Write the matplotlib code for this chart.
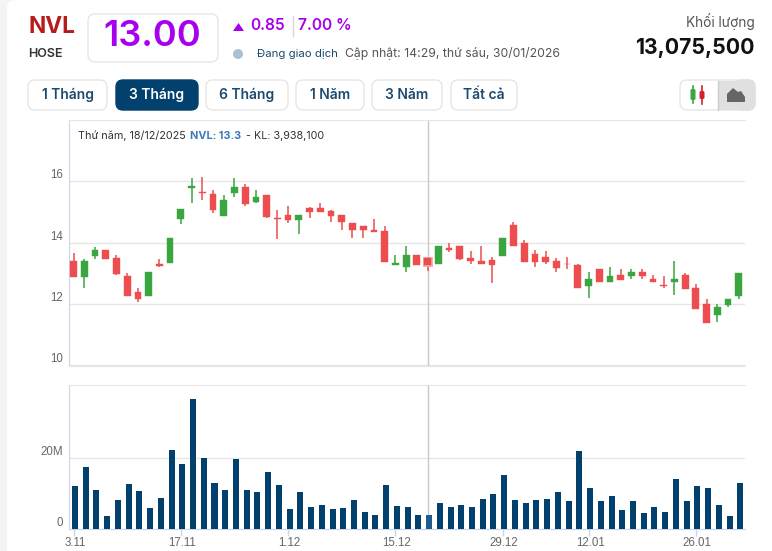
import matplotlib
matplotlib.use('Agg')
import matplotlib.pyplot as plt
from matplotlib.patches import FancyBboxPatch, Rectangle, Circle, Polygon
from matplotlib.transforms import ScaledTranslation

W, H = 772, 551

# du lieu nen
opens = [13.41, 12.89, 13.57, 13.77, 13.51, 12.92, 12.40, 12.27, 13.31, 13.34, 14.78, 15.79, 15.65, 15.59, 14.87, 15.62,
         15.82, 15.33, 15.56, 14.81, 14.89, 14.73, 15.12, 15.12, 15.02, 14.89, 14.63, 14.53, 14.43, 14.37, 13.26, 13.20,
         13.59, 13.49, 13.30, 13.82, 13.91, 13.49, 13.39, 13.43, 13.56, 14.57, 13.98, 13.62, 13.52, 13.39, 13.32, 13.29,
         12.60, 13.13, 12.73, 12.96, 12.93, 13.06, 12.83, 12.63, 12.73, 12.96, 12.54, 12.01, 11.65, 11.98, 12.27]
highs = [13.66, 13.47, 13.85, 13.77, 13.59, 13.02, 12.53, 13.05, 13.47, 14.16, 15.10, 16.11, 16.14, 15.72, 15.56, 16.11,
         15.91, 15.72, 15.56, 15.07, 15.21, 14.92, 15.18, 15.28, 15.08, 14.89, 14.63, 14.53, 14.76, 14.53, 13.59, 13.88,
         13.59, 13.49, 13.88, 13.98, 13.91, 13.72, 13.91, 13.52, 14.17, 14.67, 14.08, 13.78, 13.72, 13.49, 13.52, 13.32,
         13.06, 13.13, 13.22, 13.13, 13.13, 13.13, 12.96, 12.93, 13.39, 13.03, 12.67, 12.17, 12.01, 12.17, 13.03]
lows = [12.89, 12.53, 13.47, 13.47, 12.95, 12.27, 12.08, 12.27, 13.22, 13.34, 14.61, 15.30, 15.39, 14.97, 14.87, 15.50,
        15.20, 15.30, 14.81, 14.12, 14.63, 14.27, 14.82, 14.99, 14.66, 14.43, 14.14, 14.17, 14.34, 13.36, 13.26, 13.04,
        13.26, 13.07, 13.30, 13.69, 13.43, 13.30, 13.30, 12.68, 13.56, 13.88, 13.36, 13.22, 13.32, 13.06, 13.13, 12.54,
        12.21, 12.73, 12.73, 12.77, 12.83, 12.83, 12.73, 12.54, 12.31, 12.50, 11.85, 11.39, 11.42, 11.91, 12.17]
closes = [12.89, 13.41, 13.77, 13.47, 12.99, 12.27, 12.18, 13.05, 13.25, 14.16, 15.10, 15.85, 15.62, 15.07, 15.39, 15.82,
          15.26, 15.49, 14.84, 14.78, 14.73, 14.89, 14.99, 14.99, 14.86, 14.69, 14.43, 14.43, 14.34, 13.36, 13.33, 13.59,
          13.26, 13.26, 13.88, 13.78, 13.46, 13.39, 13.30, 13.26, 14.17, 13.88, 13.36, 13.36, 13.36, 13.19, 13.30, 12.54,
          12.83, 12.73, 12.93, 12.80, 13.06, 12.93, 12.73, 12.60, 12.83, 12.50, 11.85, 11.39, 11.91, 12.17, 13.03]
# khoi luong (trieu)
volumes = [12.2, 17.5, 11.0, 3.7, 8.2, 12.7, 10.75, 5.9, 8.8, 22.4, 18.4, 36.8, 20.1, 13.0, 11.0, 19.8,
           11.0, 10.5, 16.1, 12.45, 5.7, 10.5, 6.2, 6.8, 5.7, 5.9, 8.2, 4.8, 4.0, 12.45, 6.5, 6.2,
           4.0, 3.94, 7.4, 6.2, 6.8, 6.2, 8.5, 9.9, 15.3, 8.2, 7.4, 8.2, 8.5, 10.5, 7.9, 22.1,
           11.6, 7.9, 9.3, 5.4, 7.9, 4.5, 6.2, 4.8, 14.1, 7.9, 12.2, 11.6, 6.8, 3.7, 13.08]

tick_pos = [0, 10, 20, 30, 40, 48, 58]
tick_labels = ['3.11', '17.11', '1.12', '15.12', '29.12', '12.01', '26.01']
price_ticks = [10, 12, 14, 16]
vol_ticks = [0, 20]
vol_tick_labels = ['0', '20M']
hover = 33

buttons = [('1 Tháng', 28, 107), ('3 Tháng', 116, 198), ('6 Tháng', 206, 288),
           ('1 Năm', 296, 364), ('3 Năm', 372, 442), ('Tất cả', 451, 517)]

RED = '#ee4d50'
GREEN = '#3aa63f'
NAVY = '#02406e'
GRID = '#e6e6e6'
AXIS = '#ccd6eb'
PURPLE = '#a800ee'
TICK = '#666666'

plt.rcParams['font.family'] = ['Inter', 'DejaVu Sans']

fig = plt.figure(figsize=(W / 100, H / 100), dpi=100)

# lop nen cho phan dau trang, toa do theo pixel
under = fig.add_axes([0, 0, 1, 1], zorder=0)
under.set_xlim(0, W)
under.set_ylim(H, 0)
under.axis('off')
under.add_patch(Rectangle((0, 0), W, H, fc='#f4f4f4', ec='none'))
under.add_patch(FancyBboxPatch((7, 0), W, H + 20, boxstyle='round,pad=0,rounding_size=8', fc='white', ec='none'))

bg = fig.add_axes([0, 0, 1, 1], zorder=2)
bg.set_xlim(0, W)
bg.set_ylim(H, 0)
bg.axis('off')


def box(x0, y0, x1, y1, fc='white', ec='#e6e6e6', r=7):
    bg.add_patch(FancyBboxPatch((x0, y0), x1 - x0, y1 - y0, boxstyle=f'round,pad=0,rounding_size={r}',
                                fc=fc, ec=ec, lw=1, mutation_aspect=1))


def label(x, y, s, **kw):
    kw.setdefault('va', 'center')
    return bg.text(x, y, s, **kw)


label(28, 27, 'NVL', fontsize=16.3, fontweight='bold', color='#b71c1c')
label(28, 54, 'HOSE', fontsize=9, fontweight='semibold', color='#333333')
box(88, 14, 218, 62)
label(152.5, 37, '13.00', fontsize=26, fontweight='semibold', color=PURPLE, ha='center')

bg.add_patch(Polygon([(233, 31), (244, 31), (238.5, 23)], fc=PURPLE, ec='none'))
label(250, 26, '0.85', fontsize=11.2, fontweight='semibold', color=PURPLE)
bg.plot([293, 293], [16, 36], color='#d9d9d9', lw=1)
label(298, 26, '7.00 %', fontsize=11.2, fontweight='semibold', color=PURPLE)

bg.add_patch(Circle((238, 54), 5, fc='#a9c1d4', ec='none'))
label(257, 54, 'Đang giao dịch', fontsize=8.2, color='#1a4a6e')
label(345, 54, 'Cập nhật: 14:29, thứ sáu, 30/01/2026', fontsize=8.8, color='#555555')
label(755, 22, 'Khối lượng', fontsize=9.8, color='#555555', ha='right')
label(755, 48, '13,075,500', fontsize=15.3, fontweight='bold', color='#111111', ha='right')

for name, x0, x1 in buttons:
    active = name == '3 Tháng'
    box(x0, 80, x1, 110, fc=NAVY if active else 'white', ec=NAVY if active else '#e6e6e6')
    label((x0 + x1) / 2, 95, name, fontsize=10, fontweight='semibold', ha='center',
          color='white' if active else '#1d4a6e')

# nut chon kieu bieu do
box(680, 80, 755, 110)
box(735, 80, 755, 110, fc='#e0e0e0', ec='#e0e0e0')
bg.add_patch(Rectangle((718, 80.5), 27, 29, fc='#e0e0e0', ec='none'))
bg.plot([717.5, 717.5], [80.5, 109.5], color='#cccccc', lw=1)
bg.plot([693, 693], [86, 103], color=GREEN, lw=1.2)
bg.add_patch(FancyBboxPatch((690.5, 89), 5, 11, boxstyle='round,pad=0,rounding_size=1.5', fc=GREEN, ec='none'))
bg.plot([702, 702], [86, 104], color='#d32030', lw=1.2)
bg.add_patch(FancyBboxPatch((699.5, 91), 5, 8, boxstyle='round,pad=0,rounding_size=1.5', fc='#d32030', ec='none'))
bg.add_patch(Polygon([(727, 102), (727, 94), (733, 88), (738, 92), (741, 91), (745, 97), (745, 102)],
                     fc='#666666', ec='none'))

# khung nen
candle = fig.add_axes([68.5 / W, 1 - 365.5 / H, (745 - 68.5) / W, (365.5 - 120) / H], zorder=1)
vol = fig.add_axes([68.5 / W, 1 - 529 / H, (745 - 68.5) / W, (529 - 385.3) / H], zorder=1)

idx = list(range(len(opens)))
for i in idx:
    color = GREEN if closes[i] > opens[i] else RED
    candle.vlines(i, lows[i], highs[i], color=color, lw=1.1, zorder=3)
    top, bot = max(opens[i], closes[i]), min(opens[i], closes[i])
    if i == hover:
        # nen dang chon co vien nhat
        candle.bar(i, top - bot, bottom=bot, width=0.63, color='#f7a6a8', edgecolor='#f7a6a8',
                   linewidth=2, zorder=3.5)
    candle.bar(i, top - bot, bottom=bot, width=0.63, color=color, zorder=4,
               edgecolor=color, linewidth=0.3)

candle.set_xlim(-0.466, 62.58)
candle.set_ylim(10, 18)
candle.set_yticks(price_ticks)
candle.set_xticks([])
candle.axvline(hover, color='#c8c8c8', lw=1, zorder=2)

bar_colors = [NAVY] * len(volumes)
bar_colors[hover] = '#1c5c8e'
vol.bar(idx, volumes, width=0.56, color=bar_colors, zorder=3)
vol.set_xlim(-0.606, 62.44)
vol.set_ylim(0, 40.65)
vol.set_yticks(vol_ticks)
vol.set_yticklabels(vol_tick_labels)
vol.set_xticks([p - 0.14 for p in tick_pos])
vol.set_xticklabels(tick_labels)
vol.axvline(hover - 0.14, color='#c8c8c8', lw=1, zorder=2)

for ax in (candle, vol):
    ax.patch.set_alpha(0)
    ax.grid(axis='y', color=GRID, lw=1, zorder=1)
    ax.set_axisbelow(True)
    ax.spines['right'].set_visible(False)
    ax.spines['top'].set_color(GRID)
    ax.spines['left'].set_color(AXIS)
    ax.spines['bottom'].set_color(GRID)
    ax.tick_params(axis='y', length=0, pad=4, labelsize=8.3, labelcolor=TICK)
    for t in ax.get_yticklabels():
        t.set_verticalalignment('bottom')
        t.set_family('Liberation Sans')

vol.spines['bottom'].set_color(AXIS)
vol.tick_params(axis='x', length=5, width=1, color=AXIS, pad=0.5, labelsize=8.3, labelcolor=TICK)
shift = ScaledTranslation(1.5 / 100, 0, fig.dpi_scale_trans)
for t in vol.get_xticklabels():
    t.set_family('Liberation Sans')
    t.set_transform(t.get_transform() + shift)

# chu thich dong dang chon
label(78, 136, 'Thứ năm, 18/12/2025', fontsize=7.8, color='#333333')
label(190, 136, 'NVL: 13.3', fontsize=7.8, fontweight='bold', color='#3d7ab5')
label(246, 136, '- KL: 3,938,100', fontsize=7.75, color='#333333')

fig.savefig('out.png', dpi=100)
